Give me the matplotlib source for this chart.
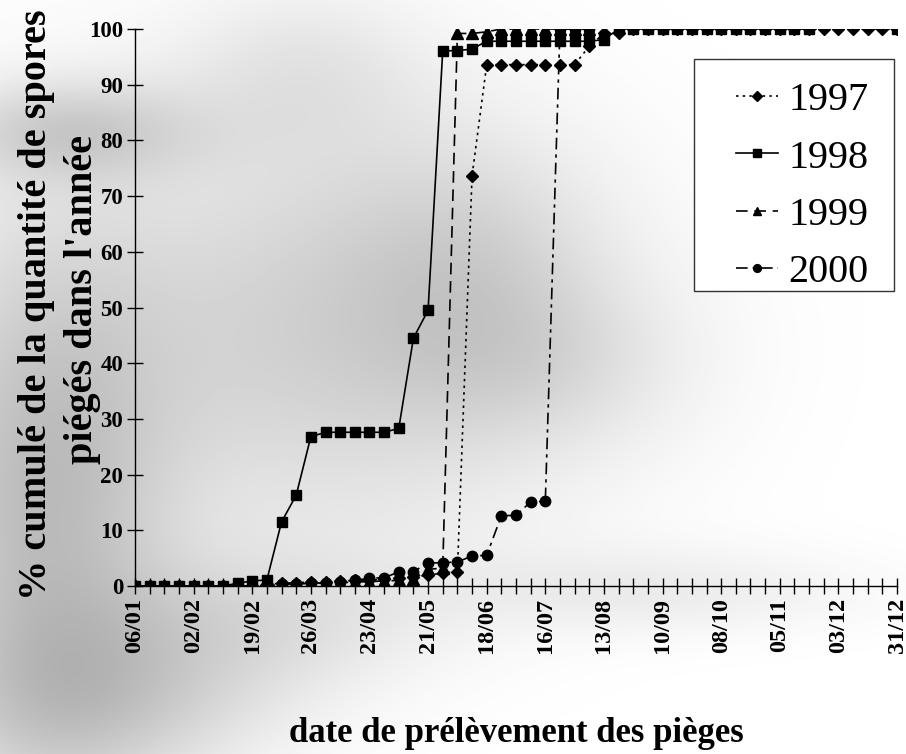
import numpy as np
import matplotlib
matplotlib.use("Agg")
import matplotlib.pyplot as plt
from matplotlib.patches import Rectangle

nan = float("nan")

# ---------------- data ----------------
weeks = list(range(53))
tick_positions = [0, 4, 8, 12, 16, 20, 24, 28, 32, 36, 40, 44, 48, 52]
tick_labels = ["06/01", "02/02", "19/02", "26/03", "23/04", "21/05", "18/06",
               "16/07", "13/08", "10/09", "08/10", "05/11", "03/12", "31/12"]

y1997 = [0, 0, 0, 0, 0, 0, 0, 0, 0, 0.3, 0.5, 0.6, 0.7, 0.8, 0.9, 1.0, 1.1, 1.2,
         1.4, 1.6, 2.0, 2.3, 2.6, 73.6, 93.6, 93.6, 93.6, 93.6, 93.6, 93.6, 93.6,
         96.9, 99.2, 99.2, 100, 100, 100, 100, 100, 100, 100, 100, 100, 100, 100,
         100, 100, 100, 100, 100, 100, 100, 100]
y1998 = [0, 0, 0, 0, 0, 0, 0, 0.5, 0.9, 1.1, 11.5, 16.3, 26.8, 27.6, 27.6, 27.6,
         27.6, 27.6, 28.3, 44.5, 49.5, 96.1, 96.1, 96.4, 97.8, 97.8, 97.8, 97.8,
         97.8, 97.8, 97.8, 97.8, 98.1, 100, 100, 100, 100, 100, 100, 100, 100,
         100, 100, 100, 100, 100, 100, nan, nan, nan, nan, nan, 100]
y1999 = [0, 0, 0, 0, 0, 0, 0, 0, 0, 0, 0.3, 0.4, 0.5, 0.5, 0.6, 0.7, 0.8, 0.9,
         1.0, 1.2, 3.0, 3.2, 99.2, 99.2, 99.5, 100, 100, 100, 100, 100, 100, 100,
         nan, nan, nan, nan, nan, nan, nan, nan, nan, nan, nan, nan, nan, nan,
         nan, nan, nan, nan, nan, nan, nan]
y2000 = [0, 0, 0, 0, 0, 0, 0, 0, 0, 0.2, 0.3, 0.4, 0.5, 0.6, 0.8, 1.0, 1.4, 1.5,
         2.5, 2.6, 4.1, 4.2, 4.3, 5.4, 5.5, 12.6, 12.7, 15.1, 15.2, 100, 100, 100,
         nan, nan, nan, nan, nan, nan, nan, nan, nan, nan, nan, nan, nan, nan,
         nan, nan, nan, nan, nan, nan, nan]

series_names = ["1997", "1998", "1999", "2000"]
ylabel_lines = ["% cumulé de la quantité de spores", "piégés dans l'année"]
xlabel_text = "date de prélèvement des pièges"

# decorative background blobs (x, y, sx, sy, darkness) in pixels
bg_blobs = [(330, 330, 190, 150, 0.18), (40, 520, 90, 200, 0.24),
            (70, 130, 90, 35, 0.16), (250, 620, 120, 50, 0.10),
            (300, 70, 90, 60, 0.08), (540, 360, 100, 60, 0.08),
            (120, 700, 120, 60, 0.14), (650, 590, 150, 30, 0.07),
            (470, 250, 90, 80, 0.08)]

# ---------------- figure ----------------
W, H = 906, 754
fig = plt.figure(figsize=(W / 100, H / 100), dpi=100)

gx, gy = np.meshgrid(np.arange(0, W, 2), np.arange(0, H, 2))
img = np.ones_like(gx, dtype=float)
for cx, cy, sx, sy, a in bg_blobs:
    img -= a * np.exp(-(((gx - cx) / sx) ** 2 + ((gy - cy) / sy) ** 2) / 2)
img = np.clip(img, 0, 1)
bg = fig.add_axes([0, 0, 1, 1])
bg.imshow(img, cmap="gray", vmin=0, vmax=1, extent=(0, W, H, 0),
          aspect="auto", interpolation="bilinear")
bg.axis("off")
bg.set_zorder(0)

x0, x1, ytop, ybot = 135, 897, 29, 586
ax = fig.add_axes([x0 / W, 1 - ybot / H, (x1 - x0) / W, (ybot - ytop) / H])
ax.set_zorder(1)
ax.patch.set_alpha(0)

lw = 1.2
ax.plot(weeks, y1997, color="black", lw=lw, linestyle=(0, (1.5, 2.5)),
        marker="D", markersize=6.5, label=series_names[0])
ax.plot(weeks, y1998, color="black", lw=lw, linestyle="-",
        marker="s", markersize=7, label=series_names[1])
ax.plot(weeks, y1999, color="black", lw=lw, linestyle=(0, (7, 4)),
        marker="^", markersize=8, label=series_names[2])
ax.plot(weeks, y2000, color="black", lw=lw, linestyle=(0, (7, 3, 2, 3)),
        marker="o", markersize=7.5, label=series_names[3])

ax.set_xlim(0, 52)
ax.set_ylim(0, 100)
for s in ["top", "right"]:
    ax.spines[s].set_visible(False)
for s in ["left", "bottom"]:
    ax.spines[s].set_linewidth(1.0)
    ax.spines[s].set_color("black")

serif = ["Liberation Serif", "DejaVu Serif"]
ax.set_xticks(weeks)
lab = [""] * len(weeks)
for p, t in zip(tick_positions, tick_labels):
    lab[p] = t
ax.set_xticklabels(lab, rotation=90, fontfamily=serif, fontweight="bold",
                   fontsize=17.5)
ax.set_yticks(range(0, 101, 10))
ax.set_yticklabels([str(v) for v in range(0, 101, 10)], fontfamily=serif,
                   fontweight="bold", fontsize=16.5)
ax.tick_params(axis="both", direction="inout", length=11, width=1.0,
               color="black")
ax.tick_params(axis="x", pad=3)
ax.tick_params(axis="y", pad=3)

fig.text(37 / W, 1 - 305 / H, ylabel_lines[0], rotation=90, ha="center",
         va="center", fontfamily=serif, fontweight="bold", fontsize=29)
fig.text(83 / W, 1 - 300 / H, ylabel_lines[1], rotation=90, ha="center",
         va="center", fontfamily=serif, fontweight="bold", fontsize=29)
fig.text(516 / W, 1 - 734 / H, xlabel_text,
         ha="center", va="center", fontfamily=serif, fontweight="bold",
         fontsize=25)

# legend frame drawn explicitly
lx0, ly0, lx1, ly1 = 694, 59, 894, 291
ax.add_patch(Rectangle((lx0 / W, 1 - ly1 / H), (lx1 - lx0) / W,
                       (ly1 - ly0) / H, transform=fig.transFigure,
                       facecolor="white", edgecolor="#333333",
                       linewidth=1.0, zorder=4, clip_on=False))
leg = ax.legend(loc="upper left", bbox_to_anchor=(736 / W, 1 - 82 / H),
                bbox_transform=fig.transFigure, borderaxespad=0,
                prop={"family": serif, "size": 29}, frameon=False,
                handlelength=1.05, handletextpad=0.25,
                labelspacing=0.5, borderpad=0.0, markerscale=0.75)
leg.set_zorder(6)

fig.savefig("out.png", dpi=100)
